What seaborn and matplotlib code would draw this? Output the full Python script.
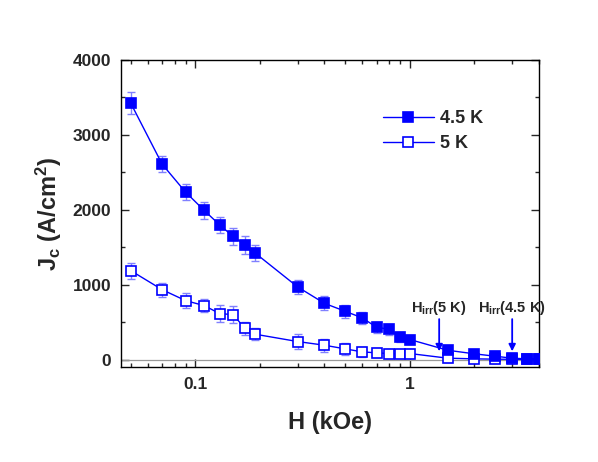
import numpy as np
import pandas as pd
import seaborn as sns
from matplotlib import pyplot as plt
from matplotlib.ticker import LogLocator, MultipleLocator, FixedLocator, FixedFormatter, NullFormatter

# field values (kOe) shared by both curves
field = [0.05, 0.07, 0.09, 0.11, 0.13, 0.15, 0.17, 0.19, 0.3, 0.4, 0.5,
         0.6, 0.7, 0.8, 0.9, 1.0, 1.5, 2.0, 2.5, 3.0, 3.5, 4.0]
jc_45K = [3423, 2609, 2236, 1991, 1796, 1644, 1533, 1422, 969, 750, 644,
          556, 431, 404, 298, 267, 124, 76, 44, 18, 9, 9]
err_45K = [150, 110, 110, 115, 110, 115, 120, 110, 95, 95, 85,
           80, 75, 70, 70, 65, 60, 55, 50, 50, 45, 45]
jc_5K = [1187, 933, 787, 720, 613, 600, 418, 338, 240, 191, 142,
         102, 89, 80, 76, 80, 18, 9, 5, 3, 2, 2]
err_5K = [105, 95, 95, 90, 110, 110, 85, 80, 95, 85, 75,
          65, 60, 60, 55, 55, 50, 45, 45, 40, 40, 40]
labels = ["4.5 K", "5 K"]
# irreversibility field markers
h_irr = [1.37, 3.0]
h_irr_text = [r"H$_{\mathbf{irr}}$(5 K)", r"H$_{\mathbf{irr}}$(4.5 K)"]

sns.set_style("ticks")
plt.rcParams['font.family'] = ['Liberation Sans', 'DejaVu Sans']
plt.rcParams['font.weight'] = 'bold'
plt.rcParams['mathtext.fontset'] = 'custom'
plt.rcParams['mathtext.rm'] = 'Liberation Sans:bold'
plt.rcParams['mathtext.bf'] = 'Liberation Sans:bold'
plt.rcParams['mathtext.default'] = 'bf'

df = pd.DataFrame({"H": field * 2,
                   "Jc": jc_45K + jc_5K,
                   "err": err_45K + err_5K,
                   "T": [labels[0]] * len(field) + [labels[1]] * len(field)})

fig = plt.figure(figsize=(5.98, 4.62), dpi=100)
ax = fig.add_axes([0.2023, 0.2056, 0.6990, 0.6645])

blue = "#0000ff"
ax.axhline(0, color="#999999", lw=0.9, zorder=1)

# 5 K first so that the filled 4.5 K squares sit on top
for lab, face in [(labels[1], "white"), (labels[0], blue)]:
    sub = df[df["T"] == lab]
    ax.errorbar(sub["H"], sub["Jc"], yerr=sub["err"], fmt="none",
                ecolor="#8080ff", elinewidth=1.0, capsize=3, capthick=1.0, zorder=2)
    sns.lineplot(data=sub, x="H", y="Jc", ax=ax, color=blue, lw=1.0,
                 marker="s", markersize=7.5, markerfacecolor=face,
                 markeredgecolor=blue, markeredgewidth=1.2, label=lab, zorder=3)

ax.set_xscale("log")
ax.set_xlim(0.045, 4.0)
ax.set_ylim(-100, 4000)

ax.xaxis.set_major_locator(FixedLocator([0.1, 1]))
ax.xaxis.set_major_formatter(FixedFormatter(["0.1", "1"]))
ax.xaxis.set_minor_locator(LogLocator(base=10, subs=np.arange(2, 10)))
ax.xaxis.set_minor_formatter(NullFormatter())
ax.yaxis.set_major_locator(MultipleLocator(1000))
ax.yaxis.set_minor_locator(MultipleLocator(500))

ax.tick_params(which="both", direction="in", top=True, right=True, width=1.0)
ax.tick_params(which="major", length=6, labelsize=12.5, pad=7)
ax.tick_params(which="minor", length=3)
for lbl in ax.get_xticklabels() + ax.get_yticklabels():
    lbl.set_fontweight("bold")
for s in ax.spines.values():
    s.set_linewidth(1.0)
    s.set_color("black")

ax.set_xlabel("H (kOe)", fontsize=17, fontweight="bold", labelpad=14)
ax.set_ylabel(r"J$_{\mathbf{c}}$ (A/cm$^{\mathbf{2}}$)", fontsize=17, fontweight="bold", labelpad=6)

for x, txt in zip(h_irr, h_irr_text):
    ax.annotate("", xy=(x, 110), xytext=(x, 540),
                arrowprops=dict(arrowstyle="-|>", color=blue, lw=1.3,
                                mutation_scale=10, shrinkA=0, shrinkB=0))
    ax.text(x, 570, txt, ha="center", va="bottom", fontsize=10.5, fontweight="bold")

handles, names = ax.get_legend_handles_labels()
order = [names.index(l) for l in labels]
leg = ax.legend([handles[i] for i in order], [names[i] for i in order],
                loc="upper left", bbox_to_anchor=(0.61, 0.86), frameon=False,
                fontsize=13, handlelength=2.8, handletextpad=0.35, labelspacing=0.45,
                borderaxespad=0)
for t in leg.get_texts():
    t.set_fontweight("bold")

fig.savefig("out.png", dpi=100)
